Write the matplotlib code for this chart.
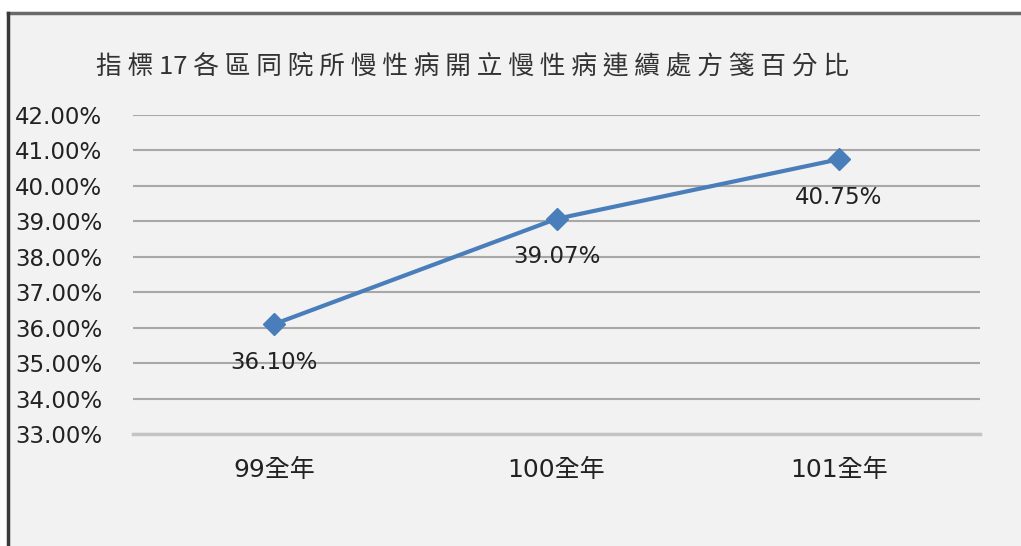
import matplotlib.pyplot as plt
from matplotlib.patches import Rectangle
from matplotlib.ticker import FuncFormatter

plt.rcParams['font.family'] = ['DejaVu Sans', 'Noto Sans CJK TC']

# data
categories = ['99全年', '100全年', '101全年']
values = [36.10, 39.07, 40.75]
title = '指標17各區同院所慢性病開立慢性病連續處方箋百分比'
yticks = [33, 34, 35, 36, 37, 38, 39, 40, 41, 42]

bg = '#f2f2f2'
fig = plt.figure(figsize=(10.21, 5.46), dpi=100)
fig.patch.set_facecolor('white')

# gray panel with dark left / top border
fig.patches.append(Rectangle((8 / 1021, 0), 1, 1 - 13 / 546, transform=fig.transFigure,
                             facecolor=bg, edgecolor='none', zorder=-5))
fig.add_artist(plt.Line2D([8 / 1021, 1], [1 - 13 / 546, 1 - 13 / 546], transform=fig.transFigure,
                          color='#6a6a6a', lw=2.5))
fig.add_artist(plt.Line2D([8 / 1021, 8 / 1021], [0, 1 - 13 / 546], transform=fig.transFigure,
                          color='#3a3a3a', lw=2.5))

ax = fig.add_axes([133 / 1021, 1 - 434 / 546, 847 / 1021, 319 / 546])
ax.set_zorder(2)
ax.set_facecolor('none')
x = list(range(len(categories)))
ax.plot(x, values, color='#4a7ebb', lw=3, marker='D', markersize=11.5, zorder=3)

for xi, v in zip(x, values):
    ax.annotate(f'{v:.2f}%', (xi, v), xytext=(0, -38), textcoords='offset pixels',
                ha='center', va='center', fontsize=16.5, color='#222222')

ax.set_xlim(-0.5, 2.5)
ax.set_ylim(33, 42)
ax.set_yticks(yticks)
ax.yaxis.set_major_formatter(FuncFormatter(lambda v, p: f'{v:.2f}%'))
ax.set_xticks(x)
ax.set_xticklabels(categories, fontsize=18, color='#222222',
                   family=['DejaVu Sans', 'Noto Sans CJK TC'])
ax.tick_params(axis='y', length=0, pad=22, labelsize=16.5, labelcolor='#222222')
ax.tick_params(axis='x', length=0, pad=17)
ax.grid(axis='y', color='#a8a8a8', lw=1.5)
for s in ['top', 'right', 'left']:
    ax.spines[s].set_visible(False)
ax.spines['bottom'].set_color('#c4c4c4')
ax.spines['bottom'].set_linewidth(2.5)

fig.text(472 / 1021, 1 - 66 / 546, ' '.join(title.replace('17', '\x00')).replace('\x00', '17'),
         ha='center', va='center', fontsize=18.5, color='#333333',
         family=['Noto Sans CJK TC', 'DejaVu Sans'])

fig.savefig('out.png', dpi=100, facecolor=fig.get_facecolor())
